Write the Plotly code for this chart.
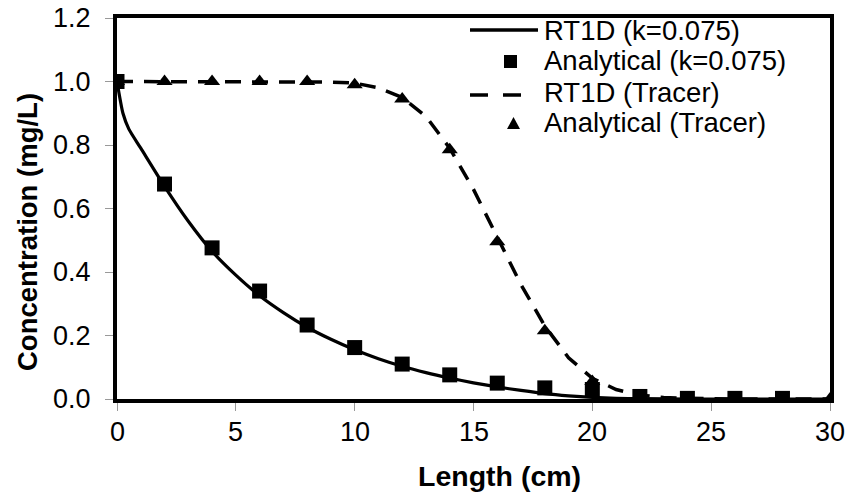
import plotly.graph_objects as go

# RT1D simulated curve (k=0.075)
rt_k_x = [0, 0.25, 0.5, 1, 2, 3, 4, 5, 6, 7, 8, 9, 10, 11, 12, 13, 14, 15, 16, 17, 18, 19, 20, 21, 22, 24, 30]
rt_k_y = [1.0, 0.90, 0.85, 0.79, 0.67, 0.56, 0.465, 0.39, 0.325, 0.272, 0.226, 0.188, 0.155, 0.127, 0.103,
          0.083, 0.066, 0.051, 0.038, 0.027, 0.017, 0.010, 0.005, 0.002, 0.001, 0.0, 0.0]

# Analytical (k=0.075)
an_k_x = [0, 2, 4, 6, 8, 10, 12, 14, 16, 18, 20, 22, 24, 26, 28]
an_k_y = [1.0, 0.677, 0.476, 0.34, 0.233, 0.162, 0.11, 0.076, 0.05, 0.035, 0.03, 0.008, 0.002, 0.002, 0.002]

# RT1D tracer curve
rt_t_x = [0, 2, 4, 6, 8, 9, 10, 11, 12, 13, 14, 15, 16, 17, 18, 19, 20, 21, 22, 23, 24, 26, 30]
rt_t_y = [1.0, 1.0, 1.0, 1.0, 1.0, 0.998, 0.995, 0.98, 0.95, 0.89, 0.79, 0.66, 0.51, 0.36, 0.23, 0.13,
          0.065, 0.03, 0.012, 0.005, 0.002, 0.0, 0.0]

# Analytical tracer
an_t_x = [0, 2, 4, 6, 8, 10, 12, 14, 16, 18, 20, 22, 24, 26, 28, 30]
an_t_y = [1.0, 1.0, 1.0, 1.0, 1.0, 0.99, 0.945, 0.785, 0.495, 0.215, 0.055, 0.005, 0.0, 0.0, 0.0, 0.0]

x_ticks = [0, 5, 10, 15, 20, 25, 30]
x_tick_labels = ["0", "5", "10", "15", "20", "25", "30"]
y_ticks = [0.0, 0.2, 0.4, 0.6, 0.8, 1.0, 1.2]
y_tick_labels = ["0.0", "0.2", "0.4", "0.6", "0.8", "1.0", "1.2"]

legend_labels = ["RT1D (k=0.075)", "Analytical (k=0.075)", "RT1D (Tracer)", "Analytical (Tracer)"]
x_title = "Length (cm)"
y_title = "Concentration (mg/L)"

W, H = 847, 495
ML, MR, MT, MB = 117, 17, 18, 96
PW, PH = W - ML - MR, H - MT - MB


def px(x):
    return (x - ML) / PW


def py(y):
    return (H - MB - y) / PH


fig = go.Figure()
fig.add_trace(go.Scatter(x=rt_t_x, y=rt_t_y, mode="lines", name=legend_labels[2],
                         line=dict(color="black", width=3.5, dash="16px,11px")))
fig.add_trace(go.Scatter(x=an_t_x, y=an_t_y, mode="markers", name=legend_labels[3],
                         marker=dict(symbol="triangle-up", size=14, color="black")))
fig.add_trace(go.Scatter(x=rt_k_x, y=rt_k_y, mode="lines", name=legend_labels[0],
                         line=dict(color="black", width=3.2, shape="spline", smoothing=0.6)))
fig.add_trace(go.Scatter(x=an_k_x, y=an_k_y, mode="markers", name=legend_labels[1],
                         marker=dict(symbol="square", size=15, color="black")))

font_family = "Liberation Sans, Arial, sans-serif"
tick_font = dict(size=27, family=font_family, color="black")

# Manual legend (tight line spacing as in the reference)
rows = [30, 61, 92, 123]
shapes = [
    dict(type="line", xref="paper", yref="paper", x0=px(470), x1=px(538), y0=py(rows[0]), y1=py(rows[0]),
         line=dict(color="black", width=3.5)),
    dict(type="rect", xref="paper", yref="paper", x0=px(504), x1=px(517), y0=py(rows[1] - 6), y1=py(rows[1] + 7),
         fillcolor="black", line=dict(width=0)),
    dict(type="line", xref="paper", yref="paper", x0=px(470), x1=px(524), y0=py(rows[2] + 3), y1=py(rows[2] + 3),
         line=dict(color="black", width=3.5, dash="18px,15px")),
    dict(type="path", xref="paper", yref="paper",
         path=f"M {px(507)} {py(rows[3] + 6)} L {px(520)} {py(rows[3] + 6)} L {px(513.5)} {py(rows[3] - 6)} Z",
         fillcolor="black", line=dict(width=0)),
]
annotations = [
    dict(text=lab, xref="paper", yref="paper", x=px(543), y=py(yy), xanchor="left", yanchor="middle",
         showarrow=False, font=dict(size=27.5, family=font_family, color="black"), borderpad=0)
    for lab, yy in zip(legend_labels, rows)
]
# Tick labels placed through the axes' own scales
annotations += [
    dict(text=t, xref="paper", yref="y", x=px(92), y=v, xanchor="right", yanchor="middle",
         showarrow=False, font=tick_font, borderpad=0)
    for t, v in zip(y_tick_labels, y_ticks)
]
annotations += [
    dict(text=t, xref="x", yref="paper", x=v, y=py(432), xanchor="center", yanchor="middle",
         showarrow=False, font=tick_font, borderpad=0)
    for t, v in zip(x_tick_labels, x_ticks)
]
annotations.append(dict(text=f"<b>{x_title}</b>", xref="paper", yref="paper", x=px(500), y=py(476),
                        xanchor="center", yanchor="middle", showarrow=False,
                        font=dict(size=28.5, family=font_family, color="black")))
annotations.append(dict(text=f"<b>{y_title}</b>", xref="paper", yref="paper", x=px(27), y=py(232),
                        xanchor="center", yanchor="middle", textangle=-90, showarrow=False,
                        font=dict(size=27.5, family=font_family, color="black")))

fig.update_layout(
    width=W, height=H,
    margin=dict(l=ML, r=MR, t=MT, b=MB, autoexpand=False),
    paper_bgcolor="white", plot_bgcolor="white",
    font=dict(family=font_family, color="black", size=27),
    showlegend=False,
    shapes=shapes,
    annotations=annotations,
    xaxis=dict(range=[0, 30], tickvals=x_ticks, showticklabels=False, ticks="outside", ticklen=8,
               tickcolor="#999", showgrid=False, zeroline=False, showline=True, linecolor="black",
               linewidth=4, mirror=True, automargin=False),
    yaxis=dict(range=[0, 1.2], tickvals=y_ticks, showticklabels=False, ticks="outside", ticklen=8,
               tickcolor="#999", showgrid=False, zeroline=False, showline=True, linecolor="black",
               linewidth=4, mirror=True, automargin=False),
)

fig.write_html("out.html")
